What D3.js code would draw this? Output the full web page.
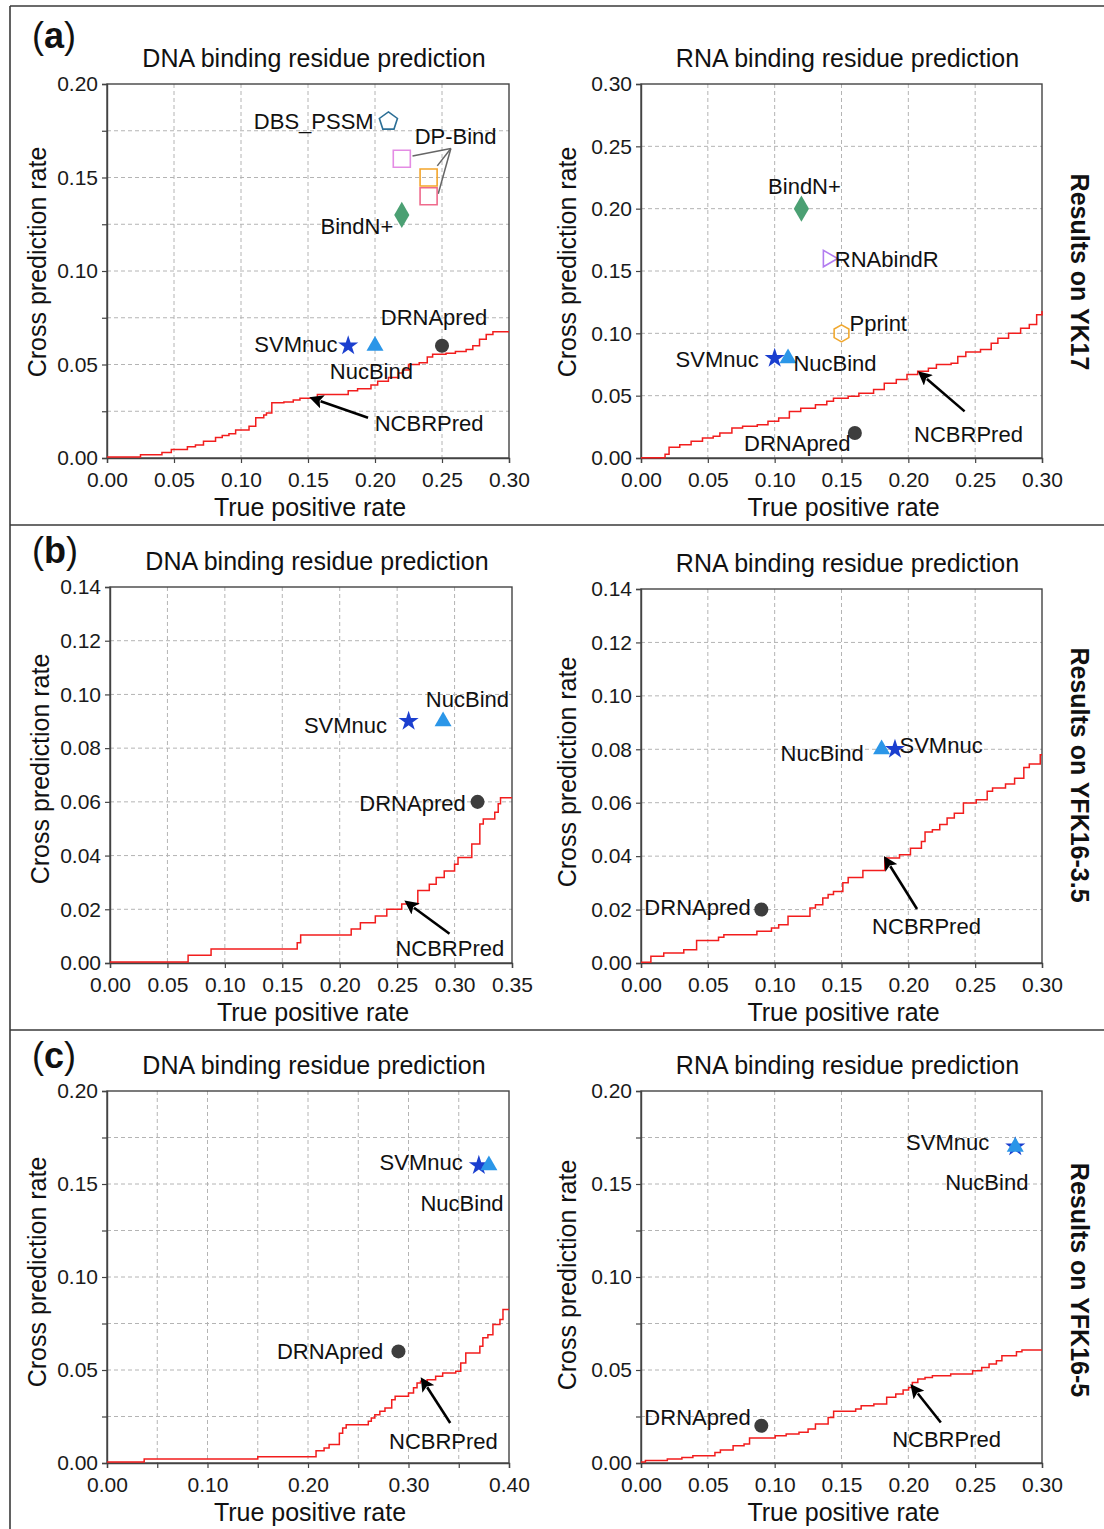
<!DOCTYPE html>
<html>
<head>
<meta charset="utf-8">
<script src="https://cdn.jsdelivr.net/npm/d3@7"></script>
<style>
  html, body { margin: 0; padding: 0; background: #fff; }
  svg { display: block; }
</style>
</head>
<body>
<div id="chart"></div>
<script>
// ---------------- DATA ----------------
// NCBRPred curves: [true positive rate, cross prediction rate] (step curves)
const aDnaCurve = [[0,0.0005],[0.025,0.0018],[0.041,0.003],[0.048,0.0045],[0.060,0.006],[0.066,0.007],[0.072,0.009],[0.081,0.011],[0.086,0.012],[0.091,0.013],[0.096,0.015],[0.106,0.017],[0.111,0.0215],[0.117,0.023],[0.119,0.024],[0.123,0.0295],[0.132,0.030],[0.139,0.031],[0.144,0.032],[0.157,0.034],[0.180,0.036],[0.187,0.037],[0.197,0.039],[0.202,0.041],[0.210,0.043],[0.2175,0.0455],[0.221,0.047],[0.225,0.050],[0.233,0.051],[0.239,0.054],[0.243,0.0555],[0.253,0.056],[0.260,0.057],[0.268,0.058],[0.273,0.060],[0.278,0.0635],[0.283,0.066],[0.288,0.0675],[0.30,0.0675]];
const aRnaCurve = [[0,0.0003],[0.018,0.003],[0.021,0.0086],[0.029,0.0107],[0.0375,0.0134],[0.046,0.016],[0.054,0.0174],[0.059,0.020],[0.068,0.024],[0.076,0.0254],[0.087,0.0267],[0.095,0.0294],[0.103,0.032],[0.111,0.0374],[0.1195,0.040],[0.1305,0.0428],[0.139,0.0455],[0.144,0.048],[0.155,0.0495],[0.163,0.052],[0.174,0.055],[0.182,0.060],[0.191,0.063],[0.199,0.067],[0.207,0.0695],[0.215,0.072],[0.221,0.075],[0.232,0.076],[0.237,0.0815],[0.243,0.085],[0.254,0.087],[0.262,0.092],[0.267,0.096],[0.275,0.100],[0.284,0.104],[0.2905,0.107],[0.296,0.115],[0.30,0.118]];
const bDnaCurve = [[0,0.0004],[0.068,0.0029],[0.088,0.0052],[0.163,0.0075],[0.166,0.0104],[0.210,0.0127],[0.218,0.015],[0.231,0.0175],[0.241,0.020],[0.254,0.022],[0.268,0.027],[0.278,0.0293],[0.284,0.0318],[0.291,0.0343],[0.300,0.0368],[0.303,0.0393],[0.315,0.0443],[0.322,0.0518],[0.325,0.0536],[0.335,0.0561],[0.338,0.0593],[0.340,0.0615],[0.35,0.0615]];
const bRnaCurve = [[0,0.0003],[0.0074,0.0025],[0.017,0.0037],[0.032,0.005],[0.0416,0.0084],[0.058,0.0096],[0.062,0.0106],[0.0867,0.0119],[0.0976,0.0131],[0.103,0.0143],[0.110,0.0175],[0.1264,0.0206],[0.1305,0.0218],[0.136,0.0243],[0.140,0.0256],[0.144,0.0268],[0.151,0.030],[0.155,0.032],[0.166,0.0346],[0.1824,0.0393],[0.1934,0.0405],[0.2016,0.043],[0.2098,0.0455],[0.2125,0.049],[0.218,0.0499],[0.2235,0.0518],[0.229,0.0543],[0.2344,0.0561],[0.2412,0.0599],[0.2508,0.0611],[0.259,0.0643],[0.263,0.0655],[0.2727,0.067],[0.2795,0.0692],[0.2864,0.0732],[0.2905,0.0745],[0.2987,0.078],[0.30,0.078]];
const cDnaCurve = [[0,0.0005],[0.037,0.0022],[0.150,0.0034],[0.208,0.0066],[0.216,0.008],[0.221,0.0099],[0.2312,0.016],[0.2345,0.0188],[0.238,0.0206],[0.260,0.0224],[0.263,0.0242],[0.2665,0.026],[0.2715,0.0278],[0.2766,0.0296],[0.2833,0.034],[0.2867,0.0359],[0.300,0.0377],[0.305,0.0404],[0.3085,0.043],[0.312,0.0439],[0.3186,0.0448],[0.327,0.0466],[0.334,0.0484],[0.347,0.0493],[0.352,0.0538],[0.357,0.0592],[0.371,0.0628],[0.374,0.0673],[0.379,0.069],[0.384,0.0744],[0.391,0.0771],[0.394,0.0825],[0.40,0.0825]];
const cRnaCurve = [[0,0.0005],[0.0033,0.0013],[0.0197,0.0021],[0.0306,0.003],[0.0388,0.0039],[0.0553,0.0057],[0.0594,0.007],[0.0689,0.0093],[0.0771,0.0102],[0.0812,0.0134],[0.1004,0.0147],[0.1086,0.0156],[0.1182,0.0165],[0.125,0.0183],[0.1305,0.021],[0.140,0.0245],[0.1441,0.0278],[0.1606,0.029],[0.1647,0.0308],[0.1742,0.0317],[0.1838,0.0353],[0.1906,0.0371],[0.1961,0.0392],[0.2002,0.0406],[0.203,0.0433],[0.2071,0.0451],[0.2125,0.046],[0.218,0.0469],[0.2317,0.0478],[0.2481,0.0496],[0.2549,0.0514],[0.2604,0.0532],[0.2659,0.055],[0.270,0.0577],[0.2809,0.0598],[0.285,0.0607],[0.30,0.0607]];

// Other predictors: single operating points
const aDnaPoints = [
  {method:"DBS_PSSM", tpr:0.21, cpr:0.18},
  {method:"DP-Bind (1)", tpr:0.22, cpr:0.16},
  {method:"DP-Bind (2)", tpr:0.24, cpr:0.15},
  {method:"DP-Bind (3)", tpr:0.24, cpr:0.14},
  {method:"BindN+", tpr:0.22, cpr:0.13},
  {method:"SVMnuc", tpr:0.18, cpr:0.06},
  {method:"NucBind", tpr:0.20, cpr:0.06},
  {method:"DRNApred", tpr:0.25, cpr:0.06}
];
const aRnaPoints = [
  {method:"BindN+", tpr:0.12, cpr:0.20},
  {method:"RNAbindR", tpr:0.14, cpr:0.16},
  {method:"Pprint", tpr:0.15, cpr:0.10},
  {method:"SVMnuc", tpr:0.10, cpr:0.08},
  {method:"NucBind", tpr:0.11, cpr:0.08},
  {method:"DRNApred", tpr:0.16, cpr:0.02}
];
const bDnaPoints = [
  {method:"SVMnuc", tpr:0.26, cpr:0.09},
  {method:"NucBind", tpr:0.29, cpr:0.09},
  {method:"DRNApred", tpr:0.32, cpr:0.06}
];
const bRnaPoints = [
  {method:"NucBind", tpr:0.18, cpr:0.08},
  {method:"SVMnuc", tpr:0.19, cpr:0.08},
  {method:"DRNApred", tpr:0.09, cpr:0.02}
];
const cDnaPoints = [
  {method:"SVMnuc", tpr:0.37, cpr:0.16},
  {method:"NucBind", tpr:0.38, cpr:0.16},
  {method:"DRNApred", tpr:0.29, cpr:0.06}
];
const cRnaPoints = [
  {method:"SVMnuc", tpr:0.28, cpr:0.17},
  {method:"NucBind", tpr:0.28, cpr:0.17},
  {method:"DRNApred", tpr:0.09, cpr:0.02}
];

// Tick values (all ticks / gridlines) and labelled ticks
const aDnaXTicks = [0,0.05,0.10,0.15,0.20,0.25,0.30];
const aDnaXLabels = ["0.00","0.05","0.10","0.15","0.20","0.25","0.30"];
const aDnaYTicks = [0,0.025,0.05,0.075,0.10,0.125,0.15,0.175,0.20];
const aDnaYLabels = ["0.00","0.05","0.10","0.15","0.20"];
const aRnaXTicks = [0,0.05,0.10,0.15,0.20,0.25,0.30];
const aRnaXLabels = ["0.00","0.05","0.10","0.15","0.20","0.25","0.30"];
const aRnaYTicks = [0,0.05,0.10,0.15,0.20,0.25,0.30];
const aRnaYLabels = ["0.00","0.05","0.10","0.15","0.20","0.25","0.30"];
const bDnaXTicks = [0,0.05,0.10,0.15,0.20,0.25,0.30,0.35];
const bDnaXLabels = ["0.00","0.05","0.10","0.15","0.20","0.25","0.30","0.35"];
const bDnaYTicks = [0,0.02,0.04,0.06,0.08,0.10,0.12,0.14];
const bDnaYLabels = ["0.00","0.02","0.04","0.06","0.08","0.10","0.12","0.14"];
const bRnaXTicks = [0,0.05,0.10,0.15,0.20,0.25,0.30];
const bRnaXLabels = ["0.00","0.05","0.10","0.15","0.20","0.25","0.30"];
const bRnaYTicks = [0,0.02,0.04,0.06,0.08,0.10,0.12,0.14];
const bRnaYLabels = ["0.00","0.02","0.04","0.06","0.08","0.10","0.12","0.14"];
const cDnaXTicks = [0,0.05,0.10,0.15,0.20,0.25,0.30,0.35,0.40];
const cDnaXLabels = ["0.00","0.10","0.20","0.30","0.40"];
const cDnaYTicks = [0,0.025,0.05,0.075,0.10,0.125,0.15,0.175,0.20];
const cDnaYLabels = ["0.00","0.05","0.10","0.15","0.20"];
const cRnaXTicks = [0,0.05,0.10,0.15,0.20,0.25,0.30];
const cRnaXLabels = ["0.00","0.05","0.10","0.15","0.20","0.25","0.30"];
const cRnaYTicks = [0,0.025,0.05,0.075,0.10,0.125,0.15,0.175,0.20];
const cRnaYLabels = ["0.00","0.05","0.10","0.15","0.20"];

const dnaTitle = "DNA binding residue prediction";
const rnaTitle = "RNA binding residue prediction";
const xTitle = "True positive rate";
const yTitle = "Cross prediction rate";
const rowLetters = ["a","b","c"];
const rowSideLabels = ["Results on YK17","Results on YFK16-3.5","Results on YFK16-5"];

// ---------------- STYLES ----------------
const FONT = "'Liberation Sans', Arial, Helvetica, sans-serif";
const markStyle = {
  "SVMnuc":      {shape:"star", fill:"#1b3fcf"},
  "NucBind":     {shape:"triangle", fill:"#2b96e8"},
  "DRNApred":    {shape:"circle", fill:"#3d3d3d"},
  "BindN+":      {shape:"diamond", fill:"#4ba073"},
  "DBS_PSSM":    {shape:"pentagon", stroke:"#2c6f96"},
  "DP-Bind (1)": {shape:"square", stroke:"#e48ce4"},
  "DP-Bind (2)": {shape:"square", stroke:"#f3a52b"},
  "DP-Bind (3)": {shape:"square", stroke:"#ef6a8c"},
  "RNAbindR":    {shape:"rtriangle", stroke:"#b27cf0"},
  "Pprint":      {shape:"hexagon", stroke:"#f0a830"}
};

// ---------------- LAYOUT ----------------
const panels = [
  {row:0, kind:"dna", left:107, top:84, width:402, height:374, xMax:0.30, yMax:0.20, yTitleShift:-9,
   curve:aDnaCurve, points:aDnaPoints, xTicks:aDnaXTicks, xLabels:aDnaXLabels, yTicks:aDnaYTicks, yLabels:aDnaYLabels,
   labels:[
     {t:"DBS_PSSM", x:0.199, y:0.18, a:"end"},
     {t:"DP-Bind", x:0.2296, y:0.1717, a:"start"},
     {t:"BindN+", x:0.2137, y:0.124, a:"end"},
     {t:"SVMnuc", x:0.172, y:0.0605, a:"end"},
     {t:"NucBind", x:0.1973, y:0.0465, a:"middle"},
     {t:"DRNApred", x:0.2043, y:0.0751, a:"start"},
     {t:"NCBRPred", x:0.1998, y:0.0184, a:"start"}],
   connectors:{hub:[0.2566,0.1655], ends:[[0.228,0.1615],[0.2465,0.1562],[0.2472,0.1413]]},
   arrow:{from:[0.1948,0.0215], to:[0.1594,0.0304]}},
  {row:0, kind:"rna", left:641, top:84, width:401, height:374, xMax:0.30, yMax:0.30, yTitleShift:-9,
   curve:aRnaCurve, points:aRnaPoints, xTicks:aRnaXTicks, xLabels:aRnaXLabels, yTicks:aRnaYTicks, yLabels:aRnaYLabels,
   labels:[
     {t:"BindN+", x:0.1223, y:0.218, a:"middle"},
     {t:"RNAbindR", x:0.145, y:0.1596, a:"start"},
     {t:"Pprint", x:0.156, y:0.1078, a:"start"},
     {t:"SVMnuc", x:0.0881, y:0.0794, a:"end"},
     {t:"NucBind", x:0.114, y:0.0762, a:"start"},
     {t:"DRNApred", x:0.0771, y:0.0115, a:"start"},
     {t:"NCBRPred", x:0.2043, y:0.0187, a:"start"}],
   arrow:{from:[0.2421,0.0374], to:[0.2139,0.0634]}},
  {row:1, kind:"dna", left:110, top:587, width:402, height:376, xMax:0.35, yMax:0.14, yTitleShift:-6,
   curve:bDnaCurve, points:bDnaPoints, xTicks:bDnaXTicks, xLabels:bDnaXLabels, yTicks:bDnaYTicks, yLabels:bDnaYLabels,
   labels:[
     {t:"SVMnuc", x:0.2412, y:0.0883, a:"end"},
     {t:"NucBind", x:0.275, y:0.098, a:"start"},
     {t:"DRNApred", x:0.3097, y:0.0593, a:"end"},
     {t:"NCBRPred", x:0.2485, y:0.0054, a:"start"}],
   arrow:{from:[0.2956,0.0109], to:[0.2647,0.0206]}},
  {row:1, kind:"rna", left:641, top:589, width:401, height:374, xMax:0.30, yMax:0.14, yTitleShift:-4,
   curve:bRnaCurve, points:bRnaPoints, xTicks:bRnaXTicks, xLabels:bRnaXLabels, yTicks:bRnaYTicks, yLabels:bRnaYLabels,
   labels:[
     {t:"NucBind", x:0.1666, y:0.0786, a:"end"},
     {t:"SVMnuc", x:0.1934, y:0.0815, a:"start"},
     {t:"DRNApred", x:0.0821, y:0.0206, a:"end"},
     {t:"NCBRPred", x:0.1729, y:0.0137, a:"start"}],
   arrow:{from:[0.2065,0.0202], to:[0.1865,0.0362]}},
  {row:2, kind:"dna", left:107, top:1091, width:402, height:372, xMax:0.40, yMax:0.20, yTitleShift:-5,
   curve:cDnaCurve, points:cDnaPoints, xTicks:cDnaXTicks, xLabels:cDnaXLabels, yTicks:cDnaYTicks, yLabels:cDnaYLabels,
   labels:[
     {t:"SVMnuc", x:0.354, y:0.1614, a:"end"},
     {t:"NucBind", x:0.3119, y:0.1396, a:"start"},
     {t:"DRNApred", x:0.2749, y:0.0601, a:"end"},
     {t:"NCBRPred", x:0.2806, y:0.0117, a:"start"}],
   arrow:{from:[0.3415,0.0215], to:[0.3186,0.0407]}},
  {row:2, kind:"rna", left:641, top:1091, width:401, height:372, xMax:0.30, yMax:0.20, yTitleShift:-2,
   curve:cRnaCurve, points:cRnaPoints, xTicks:cRnaXTicks, xLabels:cRnaXLabels, yTicks:cRnaYTicks, yLabels:cRnaYLabels,
   labels:[
     {t:"SVMnuc", x:0.1983, y:0.1722, a:"start"},
     {t:"NucBind", x:0.2276, y:0.1508, a:"start"},
     {t:"DRNApred", x:0.0821, y:0.0242, a:"end"},
     {t:"NCBRPred", x:0.1879, y:0.0124, a:"start"}],
   arrow:{from:[0.2243,0.0218], to:[0.2071,0.0374]}}
];

const rowLayout = [
  {letterY:48, sideY:272, lineY:null},
  {letterY:563, sideY:775, lineY:525},
  {letterY:1068, sideY:1280, lineY:1030}
];

// ---------------- DRAW ----------------
const W = 1104, H = 1529;
const svg = d3.select("#chart").append("svg")
  .attr("width", W).attr("height", H)
  .attr("font-family", FONT);

svg.append("defs").append("marker")
  .attr("id","arrowhead")
  .attr("markerUnits","userSpaceOnUse")
  .attr("markerWidth",16).attr("markerHeight",14)
  .attr("refX",2).attr("refY",7)
  .attr("orient","auto")
  .append("path").attr("d","M14,7 L0,0 L3,7 L0,14 Z").attr("fill","#000");

// outer frame lines
const frame = svg.append("g").attr("stroke","#3a3a3a").attr("stroke-width",1.6).attr("fill","none");
frame.append("line").attr("x1",10).attr("x2",W).attr("y1",6).attr("y2",6);
frame.append("line").attr("x1",10).attr("x2",10).attr("y1",6).attr("y2",H);
rowLayout.forEach(r => {
  if (r.lineY !== null) frame.append("line").attr("x1",10).attr("x2",W).attr("y1",r.lineY).attr("y2",r.lineY);
});

// row letters and side labels
rowLayout.forEach((r,i) => {
  const t = svg.append("text").attr("x",32).attr("y",r.letterY).attr("font-size",36).attr("fill","#111");
  t.append("tspan").text("(");
  t.append("tspan").attr("font-weight","bold").text(rowLetters[i]);
  t.append("tspan").text(")");
  svg.append("text")
    .attr("transform",`translate(1080,${r.sideY}) rotate(90)`)
    .attr("text-anchor","middle").attr("dominant-baseline","central")
    .attr("font-size",25).attr("font-weight","bold").attr("fill","#111")
    .text(rowSideLabels[i]);
});

function polygonPath(n, r, rot) {
  const pts = d3.range(n).map(i => {
    const a = rot + i * 2 * Math.PI / n;
    return [r * Math.cos(a), r * Math.sin(a)];
  });
  return "M" + pts.map(p => p.join(",")).join("L") + "Z";
}

function symbolPath(shape) {
  switch (shape) {
    case "star": return d3.symbol(d3.symbolStar, 125)();
    case "triangle": return d3.symbol(d3.symbolTriangle, 125)();
    case "circle": return d3.symbol(d3.symbolCircle, 155)();
    case "diamond": return d3.symbol(d3.symbolDiamond, 200)();
    case "square": return d3.symbol(d3.symbolSquare, 290)();
    case "pentagon": return polygonPath(5, 9.5, -Math.PI/2);
    case "hexagon": return polygonPath(6, 8.5, -Math.PI/2);
    case "rtriangle": return polygonPath(3, 9.5, 0);
  }
}

const fmtLabelSet = arr => new Set(arr);

panels.forEach(p => {
  const g = svg.append("g");
  const x = d3.scaleLinear().domain([0,p.xMax]).range([p.left, p.left + p.width]);
  const y = d3.scaleLinear().domain([0,p.yMax]).range([p.top + p.height, p.top]);
  const fmt = d3.format(".2f");
  const xLab = fmtLabelSet(p.xLabels), yLab = fmtLabelSet(p.yLabels);

  // grid
  const grid = g.append("g").attr("stroke","#b4b4b4").attr("stroke-width",1).attr("stroke-dasharray","4,3");
  p.xTicks.filter(v => v > 0 && v < p.xMax - 1e-9).forEach(v => {
    grid.append("line").attr("x1",x(v)).attr("x2",x(v)).attr("y1",p.top).attr("y2",p.top+p.height);
  });
  p.yTicks.filter(v => v > 0 && v < p.yMax - 1e-9).forEach(v => {
    grid.append("line").attr("x1",p.left).attr("x2",p.left+p.width).attr("y1",y(v)).attr("y2",y(v));
  });

  // axes
  const xAxis = d3.axisBottom(x).tickValues(p.xTicks).tickSize(5).tickPadding(9)
    .tickFormat(v => xLab.has(fmt(v)) ? fmt(v) : "");
  const yAxis = d3.axisLeft(y).tickValues(p.yTicks).tickSize(5).tickPadding(4)
    .tickFormat(v => yLab.has(fmt(v)) ? fmt(v) : "");
  const gx = g.append("g").attr("transform",`translate(0,${p.top+p.height})`).call(xAxis);
  const gy = g.append("g").attr("transform",`translate(${p.left},0)`).call(yAxis);
  [gx, gy].forEach(ax => {
    ax.select(".domain").attr("stroke","#444").attr("stroke-width",1.4);
    ax.selectAll(".tick line").attr("stroke","#444").attr("stroke-width",1.2);
    ax.selectAll(".tick text").attr("font-size",21).attr("fill","#1a1a1a").attr("font-family",FONT);
  });

  // frame
  g.append("rect").attr("x",p.left).attr("y",p.top).attr("width",p.width).attr("height",p.height)
    .attr("fill","none").attr("stroke","#444").attr("stroke-width",1.4);

  // titles
  g.append("text").attr("x",p.left + p.width/2 + 6).attr("y",p.top - 17)
    .attr("text-anchor","middle").attr("font-size",25).attr("fill","#111")
    .text(p.kind === "dna" ? dnaTitle : rnaTitle);
  g.append("text").attr("x",p.left + p.width/2 + 2).attr("y",p.top + p.height + 58)
    .attr("text-anchor","middle").attr("font-size",25).attr("fill","#111").text(xTitle);
  g.append("text")
    .attr("transform",`translate(${p.left - (p.kind === "dna" ? 70 : 74)},${p.top + p.height/2 + p.yTitleShift}) rotate(-90)`)
    .attr("text-anchor","middle").attr("dominant-baseline","central")
    .attr("font-size",25).attr("fill","#111").text(yTitle);

  // NCBRPred curve
  const line = d3.line().x(d => x(d[0])).y(d => y(d[1])).curve(d3.curveStepAfter);
  g.append("path").datum(p.curve).attr("d", line)
    .attr("fill","none").attr("stroke","#f21d1d").attr("stroke-width",1.5);

  // connectors (DP-Bind)
  if (p.connectors) {
    const [hx, hy] = p.connectors.hub;
    p.connectors.ends.forEach(e => {
      g.append("line").attr("x1",x(hx)).attr("y1",y(hy)).attr("x2",x(e[0])).attr("y2",y(e[1]))
        .attr("stroke","#666").attr("stroke-width",1.5);
    });
  }

  // points
  p.points.forEach(d => {
    const s = markStyle[d.method];
    g.append("path").attr("d", symbolPath(s.shape))
      .attr("transform",`translate(${x(d.tpr)},${y(d.cpr)})`)
      .attr("fill", s.fill || "none")
      .attr("stroke", s.stroke || "none")
      .attr("stroke-width", s.stroke ? 1.6 : 0);
  });

  // labels
  p.labels.forEach(l => {
    g.append("text").attr("x",x(l.x)).attr("y",y(l.y))
      .attr("text-anchor",l.a).attr("dominant-baseline","central")
      .attr("font-size",22).attr("fill","#111").text(l.t);
  });

  // arrow
  g.append("line")
    .attr("x1",x(p.arrow.from[0])).attr("y1",y(p.arrow.from[1]))
    .attr("x2",x(p.arrow.to[0])).attr("y2",y(p.arrow.to[1]))
    .attr("stroke","#000").attr("stroke-width",2.6)
    .attr("marker-end","url(#arrowhead)");
});
</script>
</body>
</html>
